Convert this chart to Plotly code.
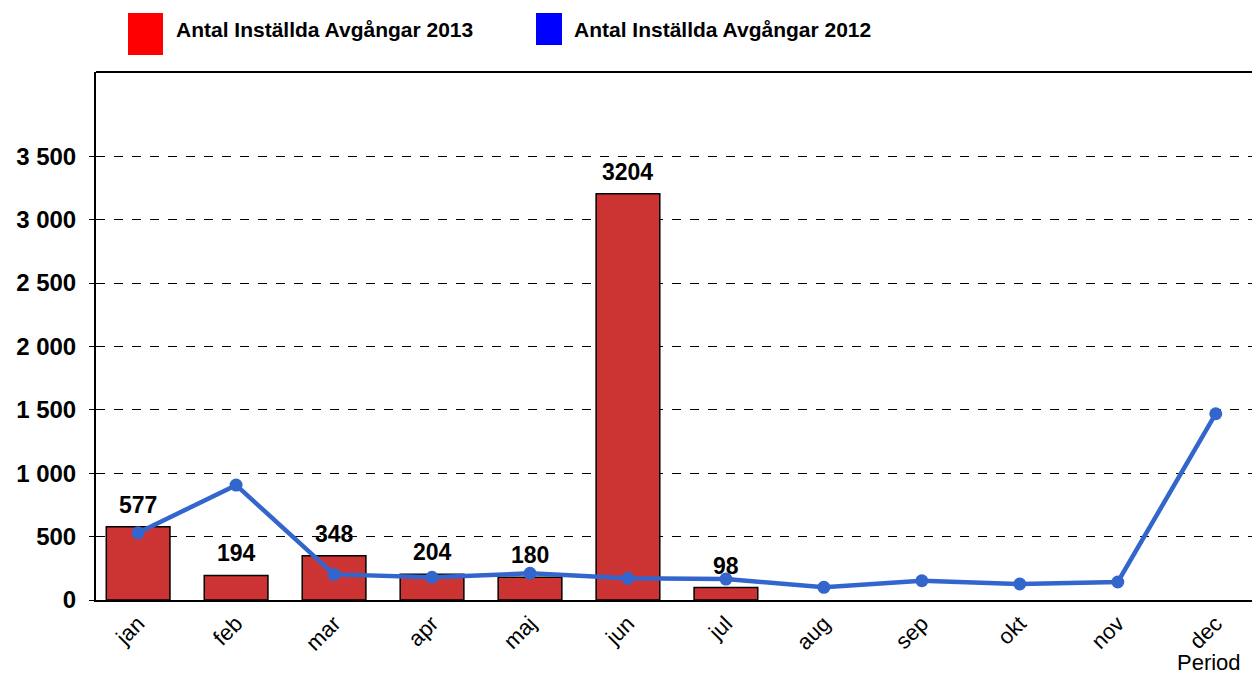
import plotly.graph_objects as go

months = ["jan", "feb", "mar", "apr", "maj", "jun", "jul", "aug", "sep", "okt", "nov", "dec"]
bars_2013 = [577, 194, 348, 204, 180, 3204, 98, None, None, None, None, None]
line_2012 = [530, 906, 202, 179, 210, 171, 165, 100, 152, 126, 142, 1469]
y_ticks = [0, 500, 1000, 1500, 2000, 2500, 3000, 3500]
y_ticktext = ["0", "500", "1 000", "1 500", "2 000", "2 500", "3 000", "3 500"]
legend_names = ["Antal Inställda Avgångar 2013", "Antal Inställda Avgångar 2012"]

FONT = "Liberation Sans, Arial, sans-serif"
L, T, B, W, H = 96, 72, 600, 1252, 675
PW, PH = W - L, B - T

def px(x):
    return (x - L) / PW

def py(y):
    return (B - y) / PH

fig = go.Figure()
fig.add_trace(go.Bar(
    x=months, y=bars_2013, name=legend_names[0],
    marker=dict(color="#CC3333", line=dict(color="black", width=1.5)),
    width=0.65, showlegend=False,
))
fig.add_trace(go.Scatter(
    x=months, y=line_2012, name=legend_names[1], mode="lines+markers",
    line=dict(color="#3366CC", width=4.5), marker=dict(color="#3366CC", size=13),
    showlegend=False,
))

for m, v in zip(months, bars_2013):
    if v is not None:
        fig.add_annotation(x=m, y=v, text=f"<b>{v}</b>", showarrow=False,
                           yanchor="bottom", yshift=7,
                           font=dict(family=FONT, size=23, color="black"))

# custom legend
fig.add_shape(type="rect", xref="paper", yref="paper", x0=px(128), x1=px(163),
              y0=py(55), y1=py(13), fillcolor="#FF0000", line=dict(width=0))
fig.add_shape(type="rect", xref="paper", yref="paper", x0=px(536), x1=px(562),
              y0=py(45), y1=py(13), fillcolor="#0000FF", line=dict(width=0))
fig.add_annotation(xref="paper", yref="paper", x=px(174), y=py(30),
                   text=f"<b>{legend_names[0]}</b>", showarrow=False, xanchor="left", yanchor="middle",
                   font=dict(family=FONT, size=21, color="black"))
fig.add_annotation(xref="paper", yref="paper", x=px(572), y=py(30),
                   text=f"<b>{legend_names[1]}</b>", showarrow=False, xanchor="left", yanchor="middle",
                   font=dict(family=FONT, size=21, color="black"))
fig.add_annotation(xref="paper", yref="paper", x=px(1209), y=py(662),
                   text="Period", showarrow=False, xanchor="center", yanchor="middle",
                   font=dict(family=FONT, size=22, color="black"))

fig.update_layout(
    width=W, height=H,
    margin=dict(l=L, r=0, t=T, b=H - B, autoexpand=False),
    paper_bgcolor="white", plot_bgcolor="white",
    font=dict(family=FONT, color="black"),
    xaxis=dict(
        type="category", range=[-0.43, 11.37], tickangle=-45, automargin=False,
        tickfont=dict(family=FONT, size=22, color="black"),
        showgrid=False, showline=True, linecolor="black", linewidth=2,
        ticks="", mirror=False,
    ),
    yaxis=dict(
        range=[0, 4164], tickvals=y_ticks, ticktext=[f"<b>{t}</b>" for t in y_ticktext],
        tickfont=dict(family=FONT, size=24, color="black"), automargin=False,
        showgrid=True, gridcolor="black", griddash="dash", gridwidth=1,
        showline=True, linecolor="black", linewidth=2, mirror=True,
        ticks="outside", ticklen=5, tickcolor="black", zeroline=False,
        ticklabelstandoff=8,
    ),
)
fig.add_shape(type="line", xref="paper", yref="paper", x0=0, x1=1, y0=1, y1=1,
              line=dict(color="black", width=2))

fig.write_html(
    "out.html",
    config={"displayModeBar": False},
    post_script="document.body.style.margin='0';document.body.style.overflow='hidden';",
)
